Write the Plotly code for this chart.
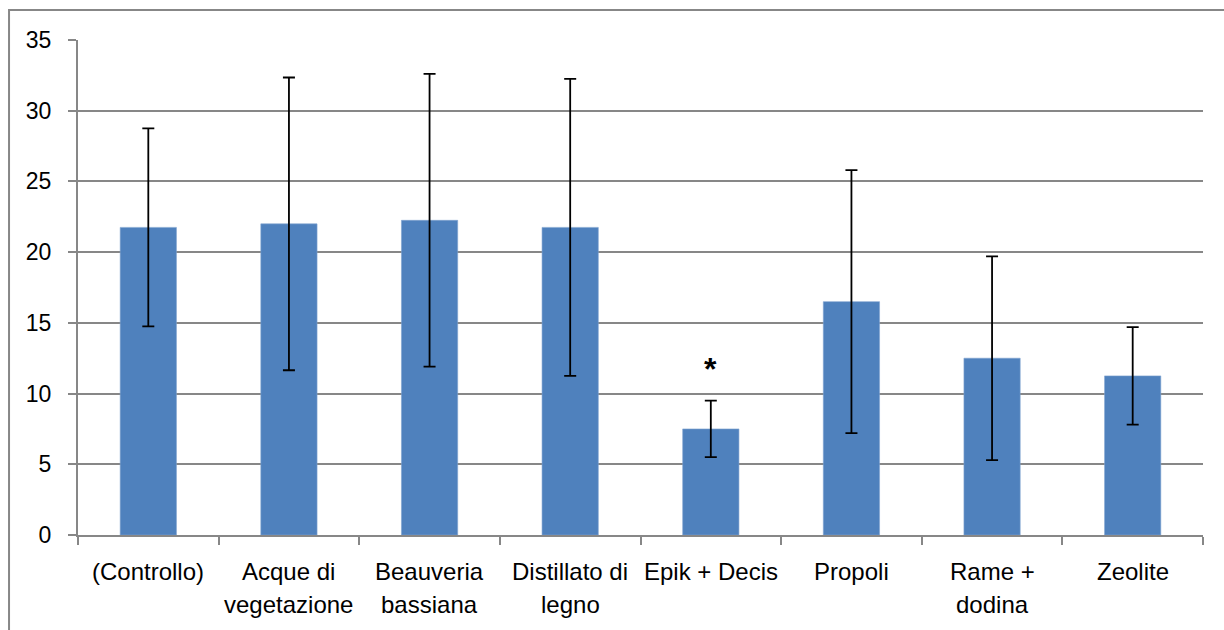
import plotly.graph_objects as go

# Treatments (each label line as shown under the axis)
categories = ["(Controllo)", "Acque di vegetazione", "Beauveria bassiana",
              "Distillato di legno", "Epik + Decis", "Propoli",
              "Rame + dodina", "Zeolite"]
label_lines = [["(Controllo)"], ["Acque di", "vegetazione"],
               ["Beauveria", "bassiana"], ["Distillato di", "legno"],
               ["Epik + Decis"], ["Propoli"], ["Rame +", "dodina"],
               ["Zeolite"]]
means = [21.75, 22.0, 22.25, 21.75, 7.5, 16.5, 12.5, 11.25]
errors = [7.0, 10.35, 10.35, 10.5, 2.0, 9.3, 7.2, 3.45]
y_ticks = [0, 5, 10, 15, 20, 25, 30, 35]
significant = ["Epik + Decis"]

FONT = "Liberation Sans"
GRID = "#878787"

fig = go.Figure()
fig.add_trace(go.Bar(
    x=categories, y=means,
    marker=dict(color="#4F81BD", line=dict(color="#7FA3D0", width=0.6)),
    error_y=dict(type="data", array=errors, visible=True,
                 color="black", thickness=1.8, width=6),
))

# category labels, one annotation per line
for cat, lines in zip(categories, label_lines):
    for i, line in enumerate(lines):
        fig.add_annotation(x=cat, y=0, xref="x", yref="paper",
                           text=line, showarrow=False,
                           yanchor="middle", yshift=-36 - 33.4 * i,
                           font=dict(family=FONT, size=24, color="black"))

# significance marker
for cat in significant:
    k = categories.index(cat)
    fig.add_annotation(x=cat, y=means[k] + errors[k], xref="x", yref="y",
                       text="<b>*</b>", showarrow=False, yanchor="bottom",
                       yshift=12,
                       font=dict(family=FONT, size=32, color="black"))

# outer chart frame
fig.add_shape(type="rect", xref="paper", yref="paper",
              x0=-0.0613, x1=1.1, y0=-0.4, y1=1.0606,
              line=dict(color="#878787", width=2), layer="below")

fig.update_layout(
    width=1224, height=630,
    margin=dict(l=78, r=21, t=40, b=95),
    paper_bgcolor="white", plot_bgcolor="white",
    showlegend=False, bargap=0.6,
    font=dict(family=FONT, size=24, color="black"),
)
fig.update_xaxes(
    showticklabels=False, showline=True, linecolor=GRID, linewidth=2,
    ticks="outside", tickson="boundaries", ticklen=8, tickcolor=GRID,
    tickwidth=2, showgrid=False,
)
fig.update_yaxes(
    range=[0, 35], tickvals=y_ticks, showline=True, linecolor=GRID,
    linewidth=2, ticks="outside", ticklen=8, tickcolor=GRID, tickwidth=2,
    showgrid=True, gridcolor=GRID, gridwidth=2, zeroline=False,
    ticklabelstandoff=12,
    tickfont=dict(family=FONT, size=23, color="black"),
)

fig.write_html("out.html")
